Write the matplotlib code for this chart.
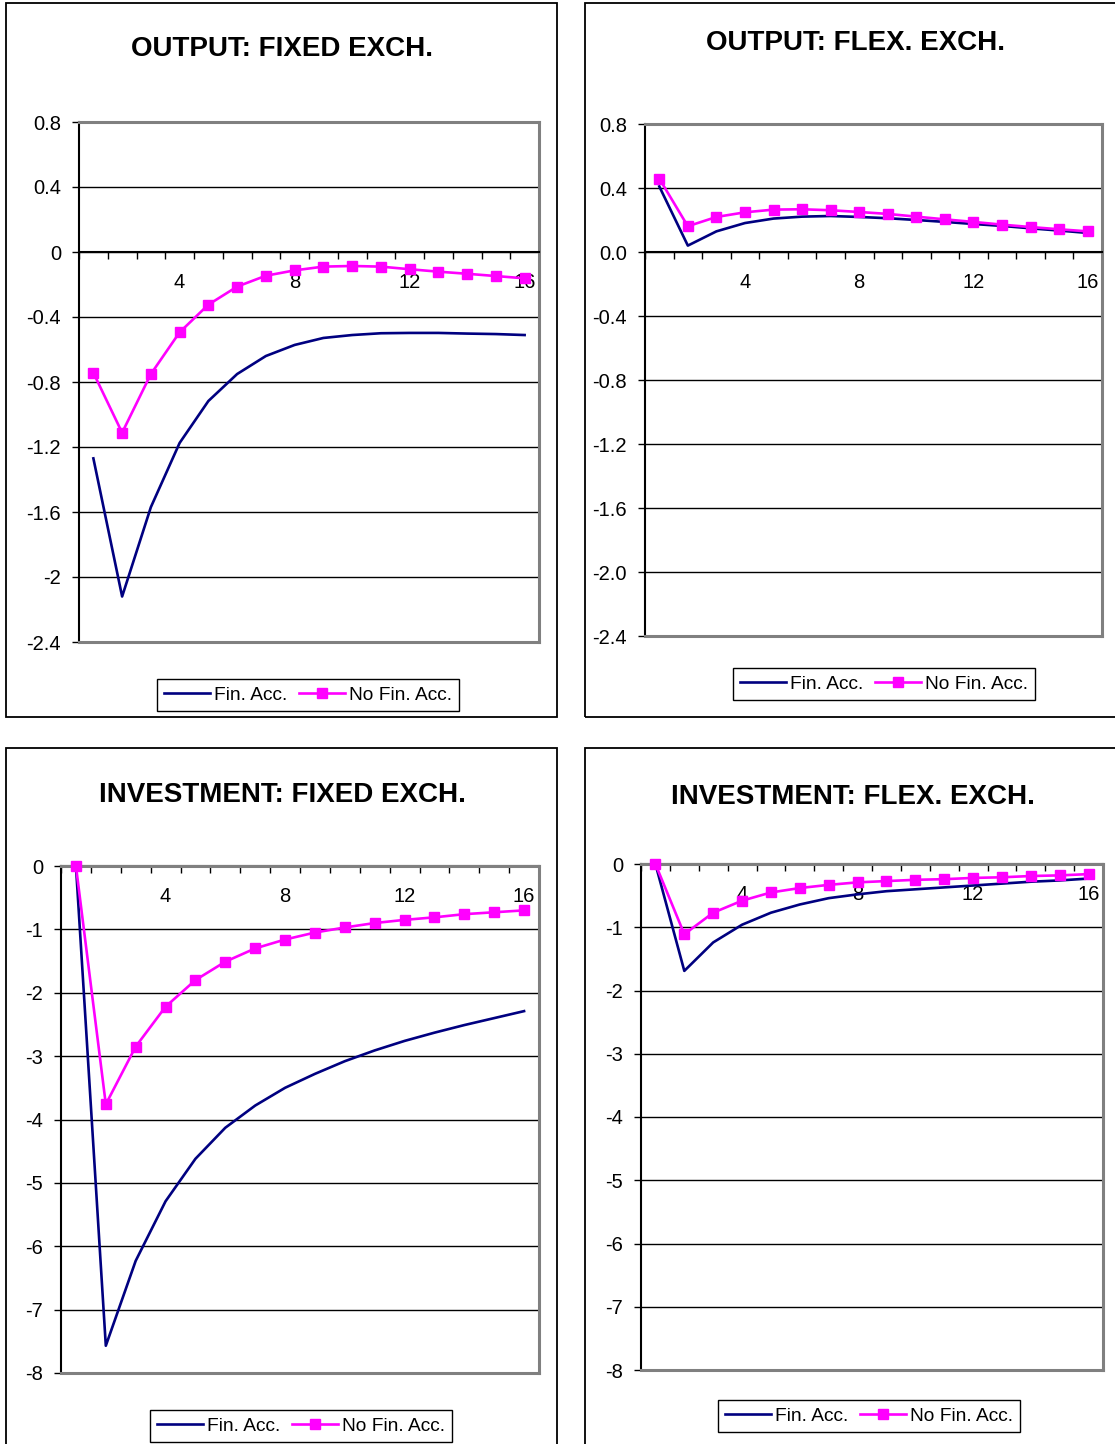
import numpy as np
import matplotlib
matplotlib.use("Agg")
import matplotlib.pyplot as plt
from matplotlib.patches import Rectangle
from matplotlib.lines import Line2D

plt.rcParams['font.family'] = ['Liberation Sans', 'DejaVu Sans']

# ---------------- data ----------------
periods = list(range(1, 17))

out_fixed_fin = [-1.27, -2.12, -1.57, -1.175, -0.917, -0.751, -0.640, -0.572,
                 -0.529, -0.511, -0.500, -0.498, -0.498, -0.502, -0.505, -0.511]
out_fixed_nofin = [-0.743, -1.112, -0.751, -0.494, -0.324, -0.213, -0.146, -0.113,
                   -0.090, -0.086, -0.090, -0.106, -0.121, -0.134, -0.148, -0.162]

out_flex_fin = [0.41, 0.04, 0.129, 0.181, 0.209, 0.221, 0.225, 0.219,
                0.211, 0.200, 0.188, 0.175, 0.163, 0.148, 0.134, 0.119]
out_flex_nofin = [0.459, 0.161, 0.219, 0.248, 0.265, 0.267, 0.261, 0.250,
                  0.238, 0.221, 0.204, 0.188, 0.171, 0.156, 0.142, 0.129]

inv_fixed_fin = [0.0, -7.57, -6.23, -5.29, -4.62, -4.13, -3.78, -3.50,
                 -3.28, -3.08, -2.91, -2.76, -2.63, -2.51, -2.40, -2.29]
inv_fixed_nofin = [0.0, -3.76, -2.85, -2.22, -1.80, -1.51, -1.30, -1.16,
                   -1.05, -0.97, -0.90, -0.85, -0.81, -0.76, -0.73, -0.70]

inv_flex_fin = [0.0, -1.69, -1.24, -0.96, -0.77, -0.64, -0.54, -0.48,
                -0.43, -0.40, -0.37, -0.34, -0.31, -0.28, -0.26, -0.23]
inv_flex_nofin = [0.0, -1.11, -0.77, -0.58, -0.45, -0.38, -0.33, -0.29,
                  -0.27, -0.25, -0.24, -0.22, -0.21, -0.19, -0.18, -0.16]

titles = ["OUTPUT: FIXED EXCH.", "OUTPUT: FLEX. EXCH.",
          "INVESTMENT: FIXED EXCH.", "INVESTMENT: FLEX. EXCH."]
series_labels = ["Fin. Acc.", "No Fin. Acc."]
xtick_labels = ["4", "8", "12", "16"]

out_fixed_yticks = [0.8, 0.4, 0, -0.4, -0.8, -1.2, -1.6, -2, -2.4]
out_fixed_ylabels = ["0.8", "0.4", "0", "-0.4", "-0.8", "-1.2", "-1.6", "-2", "-2.4"]
out_flex_yticks = [0.8, 0.4, 0.0, -0.4, -0.8, -1.2, -1.6, -2.0, -2.4]
out_flex_ylabels = ["0.8", "0.4", "0.0", "-0.4", "-0.8", "-1.2", "-1.6", "-2.0", "-2.4"]
inv_yticks = [0, -1, -2, -3, -4, -5, -6, -7, -8]
inv_ylabels = ["0", "-1", "-2", "-3", "-4", "-5", "-6", "-7", "-8"]

# ---------------- layout ----------------
W, H = 1115, 1444
fig = plt.figure(figsize=(W / 100, H / 100), dpi=100)

NAVY = "#000080"
MAG = "#FF00FF"
FRAME = "#808080"


def fr(x0, y0, x1, y1):
    return [x0 / W, 1 - y1 / H, (x1 - x0) / W, (y1 - y0) / H]


panels = [
    dict(box=(6, 3, 557, 717), ax=(79, 122, 539, 642), title=(282, 49),
         leg=(308, 695), fin=out_fixed_fin, nofin=out_fixed_nofin,
         yt=out_fixed_yticks, yl=out_fixed_ylabels),
    dict(box=(585, 3, 1130, 717), ax=(645, 124, 1102, 636), title=(855, 43),
         leg=(884, 684), fin=out_flex_fin, nofin=out_flex_nofin,
         yt=out_flex_yticks, yl=out_flex_ylabels),
    dict(box=(6, 748, 557, 1460), ax=(61, 866, 539, 1373), title=(282, 795),
         leg=(301, 1426), fin=inv_fixed_fin, nofin=inv_fixed_nofin,
         yt=inv_yticks, yl=inv_ylabels),
    dict(box=(585, 748, 1130, 1460), ax=(641, 864, 1103, 1370), title=(853, 797),
         leg=(869, 1416), fin=inv_flex_fin, nofin=inv_flex_nofin,
         yt=inv_yticks, yl=inv_ylabels),
]

LW = 1.9
MS = 6.8

for p, title in zip(panels, titles):
    bx0, by0, bx1, by1 = p["box"]
    fig.add_artist(Rectangle((bx0 / W, 1 - by1 / H), (bx1 - bx0) / W, (by1 - by0) / H,
                             transform=fig.transFigure, fill=False,
                             edgecolor="black", linewidth=1.3, clip_on=False))
    fig.text(p["title"][0] / W, 1 - p["title"][1] / H, title, ha="center", va="center",
             fontsize=20, fontweight="bold")

    ax = fig.add_axes(fr(*p["ax"]))
    ymax, ymin = max(p["yt"]), min(p["yt"])
    ax.set_xlim(0.5, 16.5)
    ax.set_ylim(ymin, ymax)
    ax.set_yticks(p["yt"])
    ax.set_yticklabels(p["yl"])
    ax.tick_params(axis="y", length=5, width=1, direction="out", pad=8,
                   labelsize=14.5, color="black")
    ax.set_xticks([4, 8, 12, 16])
    ax.set_xticklabels(xtick_labels)
    ax.set_xticks(np.arange(0.5, 17, 1), minor=True)
    ax.tick_params(axis="x", which="major", length=0, pad=15, labelsize=14.5)
    ax.tick_params(axis="x", which="minor", length=5, width=1, direction="out",
                   color="black")
    ax.yaxis.grid(True, color="black", linewidth=1)
    ax.set_axisbelow(True)

    ax.spines["left"].set_color("black")
    ax.spines["left"].set_linewidth(1.5)
    ax.spines["top"].set_color(FRAME)
    ax.spines["top"].set_linewidth(2.2)
    ax.spines["right"].set_color(FRAME)
    ax.spines["right"].set_linewidth(2.2)
    ax.spines["bottom"].set_position(("data", 0))
    ax.spines["bottom"].set_color("black")
    ax.spines["bottom"].set_linewidth(1.5)
    ax.plot([0, 1], [0, 0], transform=ax.transAxes, color=FRAME, lw=2.2,
            clip_on=False, zorder=2.6)

    ax.plot(periods, p["fin"], color=NAVY, lw=LW, zorder=3, clip_on=False)
    ax.plot(periods, p["nofin"], color=MAG, lw=LW, marker="s", markersize=MS,
            markeredgecolor=MAG, markerfacecolor=MAG, zorder=4, clip_on=False)

    handles = [Line2D([], [], color=NAVY, lw=LW),
               Line2D([], [], color=MAG, lw=LW, marker="s", markersize=MS)]
    leg = fig.legend(handles, series_labels, loc="center",
                     bbox_to_anchor=(p["leg"][0] / W, 1 - p["leg"][1] / H),
                     ncol=2, frameon=True, fancybox=False, framealpha=1,
                     edgecolor="black", fontsize=13.8, handlelength=2.4,
                     handletextpad=0.2, columnspacing=0.6, borderpad=0.4,
                     borderaxespad=0, numpoints=1)
    leg.get_frame().set_linewidth(1)

fig.savefig("out.png", dpi=100)
